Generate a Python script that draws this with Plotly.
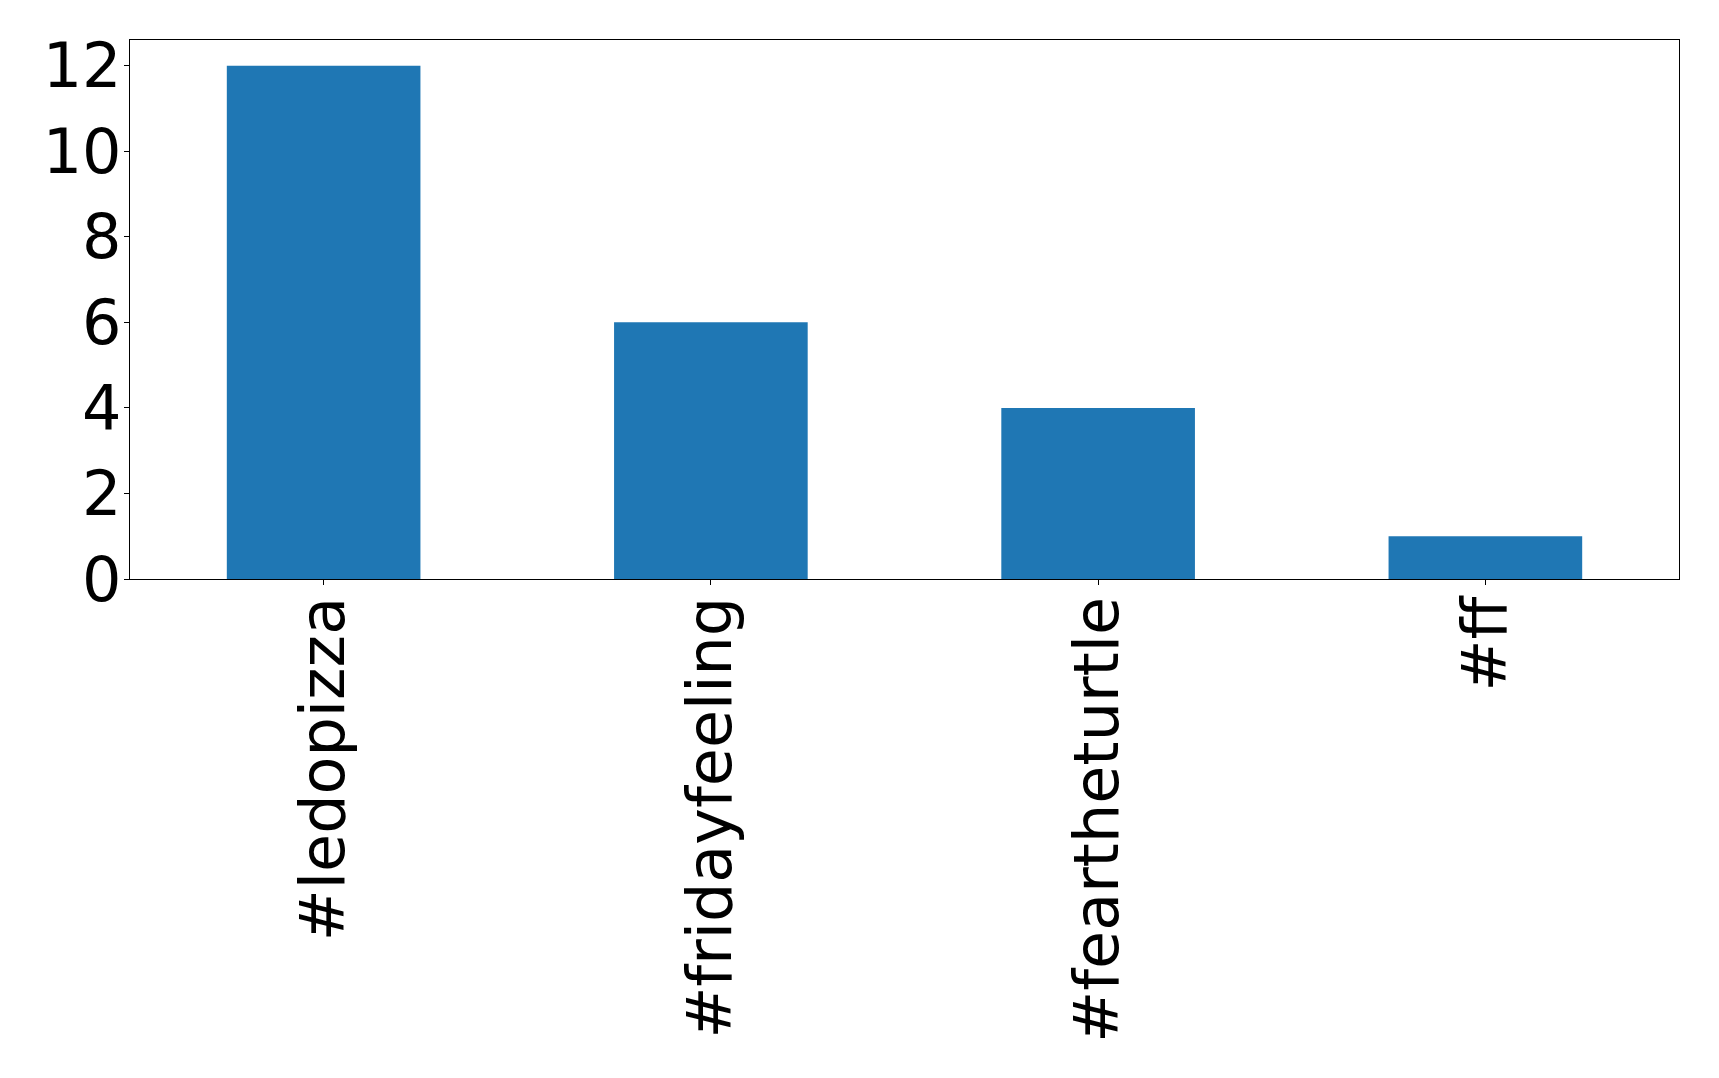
import plotly.graph_objects as go

categories = ["#ledopizza", "#fridayfeeling", "#feartheturtle", "#ff"]
counts = [12, 6, 4, 1]
y_tickvals = [0, 2, 4, 6, 8, 10, 12]

# page body has a default 8px margin; compensate so the plot box lands where the reference has it
W, H = 1703, 1062
fig = go.Figure()
fig.add_trace(go.Bar(
    x=list(range(len(categories))),
    y=counts,
    width=0.5,
    marker=dict(color="#1f77b4", line=dict(width=0)),
))

font = dict(family="DejaVu Sans", size=62, color="black")
fig.update_layout(
    width=W, height=H,
    margin=dict(l=121.5, r=31.7, t=32.3, b=490.7, pad=0, autoexpand=False),
    paper_bgcolor="white", plot_bgcolor="white",
    showlegend=False,
    font=font,
    xaxis=dict(
        range=[-0.5, 3.5],
        tickvals=list(range(len(categories))),
        ticktext=categories,
        tickangle=-90,
        ticks="outside", ticklen=5, tickwidth=1, tickcolor="black",
        showline=True, linecolor="black", linewidth=1.1, mirror=True,
        showgrid=False, zeroline=False, automargin=False,
        ticklabelstandoff=-13,
        tickfont=font,
    ),
    yaxis=dict(
        range=[0, 12.6],
        tickvals=y_tickvals,
        ticks="outside", ticklen=5, tickwidth=1, tickcolor="black",
        showline=True, linecolor="black", linewidth=1.1, mirror=True,
        showgrid=False, zeroline=False, automargin=False,
        ticklabelstandoff=-10,
        tickfont=font,
    ),
)
fig.write_html("out.html")
